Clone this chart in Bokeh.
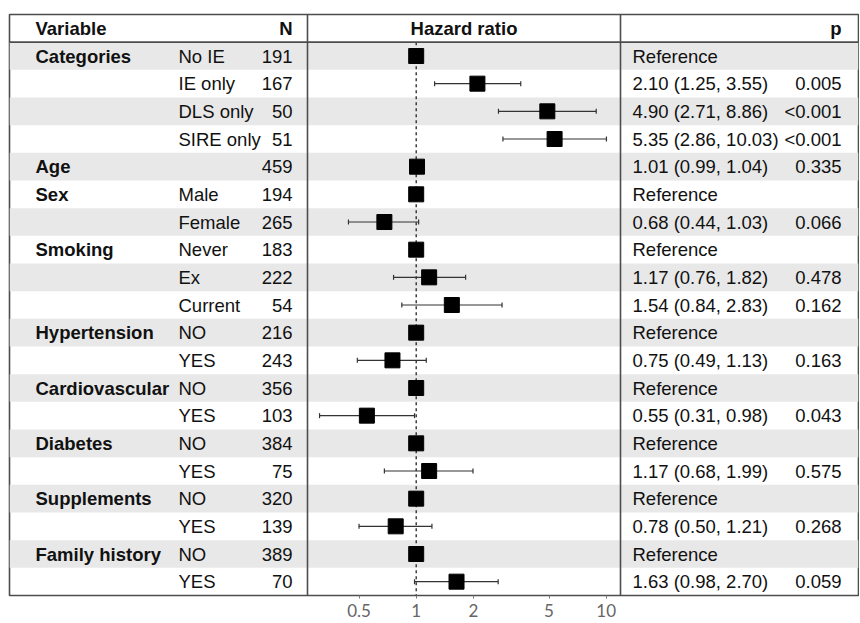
from bokeh.plotting import figure
from bokeh.models import Range1d, FixedTicker, Span, LogScale, LogAxis
from bokeh.core.properties import value
from bokeh.embed import file_html
from bokeh.resources import INLINE

# ---------------- data ----------------
variables = ["Categories", "", "", "", "Age", "Sex", "", "Smoking", "", "",
             "Hypertension", "", "Cardiovascular", "", "Diabetes", "",
             "Supplements", "", "Family history", ""]
levels = ["No IE", "IE only", "DLS only", "SIRE only", "", "Male", "Female",
          "Never", "Ex", "Current", "NO", "YES", "NO", "YES", "NO", "YES",
          "NO", "YES", "NO", "YES"]
n_counts = [191, 167, 50, 51, 459, 194, 265, 183, 222, 54, 216, 243, 356, 103,
            384, 75, 320, 139, 389, 70]
hr = [1.00, 2.10, 4.90, 5.35, 1.01, 1.00, 0.68, 1.00, 1.17, 1.54, 1.00, 0.75,
      1.00, 0.55, 1.00, 1.17, 1.00, 0.78, 1.00, 1.63]
ci_low = [None, 1.25, 2.71, 2.86, 0.99, None, 0.44, None, 0.76, 0.84, None,
          0.49, None, 0.31, None, 0.68, None, 0.50, None, 0.98]
ci_high = [None, 3.55, 8.86, 10.03, 1.04, None, 1.03, None, 1.82, 2.83, None,
           1.13, None, 0.98, None, 1.99, None, 1.21, None, 2.70]
p_values = ["", "0.005", "<0.001", "<0.001", "0.335", "", "0.066", "", "0.478",
            "0.162", "", "0.163", "", "0.043", "", "0.575", "", "0.268", "",
            "0.059"]
headers = ["Variable", "N", "Hazard ratio", "p"]
ticks = [0.5, 1.0, 2.0, 5.0, 10.0]
tick_labels = ["0.5", "1", "2", "5", "10"]
reference_value = 1.0

# ---------------- layout (page-pixel coordinates for the table) ----------------
FONT = "Liberation Sans"
FS = "18.5px"
TXT = "#111111"
STRIPE = "#e8e8e8"
LINE = "#4d4d4d"
W, H = 859, 622
LEFT, RIGHT = 9, 858          # frame edges
TOP, BOT = 14, 595
DIV1, DIV2 = 307, 620         # panel dividers
ONE_PX, DEC_PX = 415.7, 190.0 # x of HR = 1, pixels per decade

n_rows = len(levels)
ys = list(range(1, n_rows + 1))
stripe_rows = [y for y in ys if y % 2 == 1]

ci_rows = [i for i in range(n_rows) if ci_low[i] is not None]
hr_text = ["Reference" if ci_low[i] is None else
           f"{hr[i]:.2f} ({ci_low[i]:.2f}, {ci_high[i]:.2f})" for i in range(n_rows)]

p = figure(width=W, height=H, x_range=Range1d(LEFT, RIGHT),
           y_range=Range1d(n_rows + 0.5, -0.5),
           output_backend="svg", toolbar_location=None,
           x_axis_location=None, y_axis_location=None,
           min_border_left=LEFT, min_border_right=W - RIGHT,
           min_border_top=TOP, min_border_bottom=H - BOT)
p.grid.visible = False
p.outline_line_color = LINE
p.outline_line_width = 1.6
p.background_fill_color = "white"
p.border_fill_color = "white"

# log scale for the hazard-ratio panel, spanning the whole frame
p.extra_x_ranges = {"hr": Range1d(10 ** ((LEFT - ONE_PX) / DEC_PX),
                                  10 ** ((RIGHT - ONE_PX) / DEC_PX))}
p.extra_x_scales = {"hr": LogScale()}

# stripes and grid lines
p.hbar(y=stripe_rows, height=1, left=LEFT, right=RIGHT,
       fill_color=STRIPE, line_color=None)
p.add_layout(Span(location=0.5, dimension="width", line_color=LINE, line_width=1.6))
for xd in (DIV1, DIV2):
    p.add_layout(Span(location=xd, dimension="height", line_color=LINE, line_width=1.6))


def txt(x, y, text, align="left", bold=False, range_name="default"):
    p.text(x=x, y=y, text=text, text_font=value(FONT), text_font_size=FS,
           text_align=align, text_baseline="middle", text_color=TXT,
           text_font_style="bold" if bold else "normal", x_range_name=range_name)


# left table
txt([35], [0], [headers[0]], bold=True)
txt([292], [0], [headers[1]], align="right", bold=True)
txt(35, ys, variables, bold=True)
txt(178, ys, levels)
txt(292, ys, [str(n) for n in n_counts], align="right")

# forest panel
txt([(DIV1 + DIV2) / 2], [0], [headers[2]], align="center", bold=True)
p.segment(x0=[reference_value], y0=[0.5], x1=[reference_value], y1=[n_rows + 0.5],
          line_color="#222222", line_width=1.3, line_dash="3 3", x_range_name="hr")
cy = [ys[i] for i in ci_rows]
cl = [ci_low[i] for i in ci_rows]
ch = [ci_high[i] for i in ci_rows]
p.segment(x0=cl, y0=cy, x1=ch, y1=cy, line_color="#333333", line_width=1.2,
          x_range_name="hr")
for xs in (cl, ch):
    p.segment(x0=xs, y0=[y - 0.09 for y in cy], x1=xs, y1=[y + 0.09 for y in cy],
              line_color="#333333", line_width=1.2, x_range_name="hr")
p.scatter(x=hr, y=ys, marker="square", size=15, fill_color="black",
          line_color="black", x_range_name="hr")

ax = LogAxis(x_range_name="hr")
ax.ticker = FixedTicker(ticks=ticks, minor_ticks=[])
ax.major_label_overrides = {t: l for t, l in zip(ticks, tick_labels)}
ax.axis_line_color = None
ax.major_tick_in = 0
ax.major_tick_out = 3
ax.major_tick_line_color = "#777777"
ax.minor_tick_line_color = None
ax.major_label_standoff = 5
ax.major_label_text_font = "Lato"
ax.major_label_text_font_size = "17px"
ax.major_label_text_color = "#666666"
p.add_layout(ax, "below")

# right table
txt([841], [0], [headers[3]], align="right", bold=True)
txt(632, ys, hr_text)
txt(841, ys, p_values, align="right")

open("out.html", "w").write(file_html(p, INLINE))
